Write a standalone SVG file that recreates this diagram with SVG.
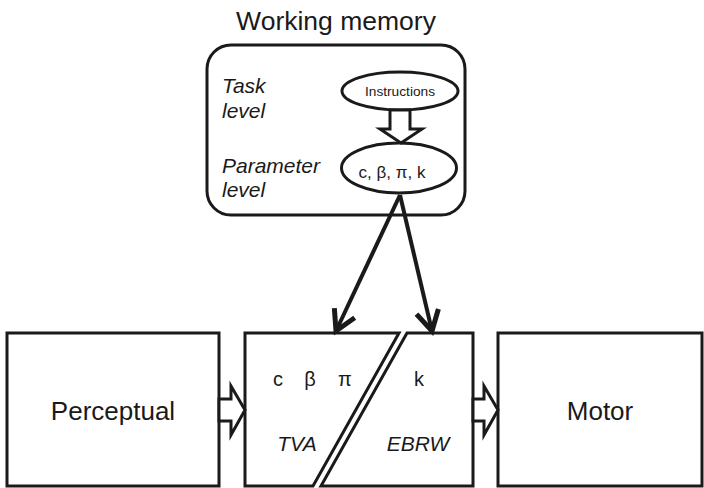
<svg xmlns="http://www.w3.org/2000/svg" width="704" height="488" viewBox="0 0 704 488">
  <style>
    .box { fill: #fff; stroke: #1a1a1a; stroke-width: 3; stroke-linejoin: miter; }
    .blk { fill: #fff; stroke: #1a1a1a; stroke-width: 3; stroke-linejoin: miter; }
    .t { font-family: "Liberation Sans", Arial, sans-serif; fill: #1a1a1a; }
    .it { font-style: italic; }
    .link { fill: none; stroke: #1a1a1a; stroke-width: 4; }
  </style>
  <defs>
    <marker id="vhead" markerUnits="userSpaceOnUse" markerWidth="30" markerHeight="30" viewBox="-20 -12 24 24" refX="0" refY="0" orient="auto">
      <path d="M-16,-9 L0,0 L-16,9" fill="none" stroke="#1a1a1a" stroke-width="4" stroke-linejoin="miter"/>
    </marker>
  </defs>

  <rect width="704" height="488" fill="#fff"/>

  <!-- working memory panel -->
  <g id="working-memory">
    <text class="t" x="336" y="30" font-size="26.5" text-anchor="middle">Working memory</text>
    <rect class="box" x="207" y="45" width="258" height="170" rx="24" ry="24"/>
    <text class="t it" x="222" y="93" font-size="21">Task</text>
    <text class="t it" x="222" y="118" font-size="21">level</text>
    <text class="t it" x="222" y="173" font-size="21">Parameter</text>
    <text class="t it" x="222" y="197" font-size="21">level</text>
  </g>

  <g id="instructions">
    <ellipse class="box" cx="400" cy="91" rx="58" ry="19"/>
    <text class="t" x="400" y="96" font-size="13.7" text-anchor="middle">Instructions</text>
  </g>

  <g id="parameters">
    <ellipse class="box" cx="399" cy="168" rx="57.5" ry="25"/>
    <text class="t" x="392" y="178" font-size="17" text-anchor="middle">c, β, π, k</text>
  </g>

  <!-- bottom row of processing stages -->
  <g id="perceptual">
    <rect class="box" x="7" y="333" width="212" height="153"/>
    <text class="t" x="113" y="420" font-size="26" text-anchor="middle">Perceptual</text>
  </g>

  <g id="tva">
    <polygon class="box" points="245,333 399,333 313,486 245,486"/>
    <text class="t" x="278" y="386" font-size="20" text-anchor="middle">c</text>
    <text class="t" x="310" y="386" font-size="20" text-anchor="middle">β</text>
    <text class="t" x="345" y="386" font-size="20" text-anchor="middle">π</text>
    <text class="t it" x="297" y="451" font-size="21" text-anchor="middle">TVA</text>
  </g>

  <g id="ebrw">
    <polygon class="box" points="407,333 473,333 473,486 321,486"/>
    <text class="t" x="419" y="386" font-size="20" text-anchor="middle">k</text>
    <text class="t it" x="418" y="451" font-size="21" text-anchor="middle">EBRW</text>
  </g>

  <g id="motor">
    <rect class="box" x="498" y="333" width="204" height="153"/>
    <text class="t" x="600" y="420" font-size="26" text-anchor="middle">Motor</text>
  </g>

  <!-- connectors -->
  <g id="connectors">
    <polygon class="blk" points="390,110 390,129 380,129 401,143 422,129 410,129 410,110"/>
    <line class="link" x1="400" y1="195" x2="336" y2="331" marker-end="url(#vhead)"/>
    <line class="link" x1="400" y1="195" x2="432" y2="331" marker-end="url(#vhead)"/>
    <polygon class="blk" points="219,399 231,399 231,386 245,410 231,435 231,421 219,421"/>
    <polygon class="blk" points="473,399 484,399 484,386 498,410 484,435 484,421 473,421"/>
  </g>
</svg>
